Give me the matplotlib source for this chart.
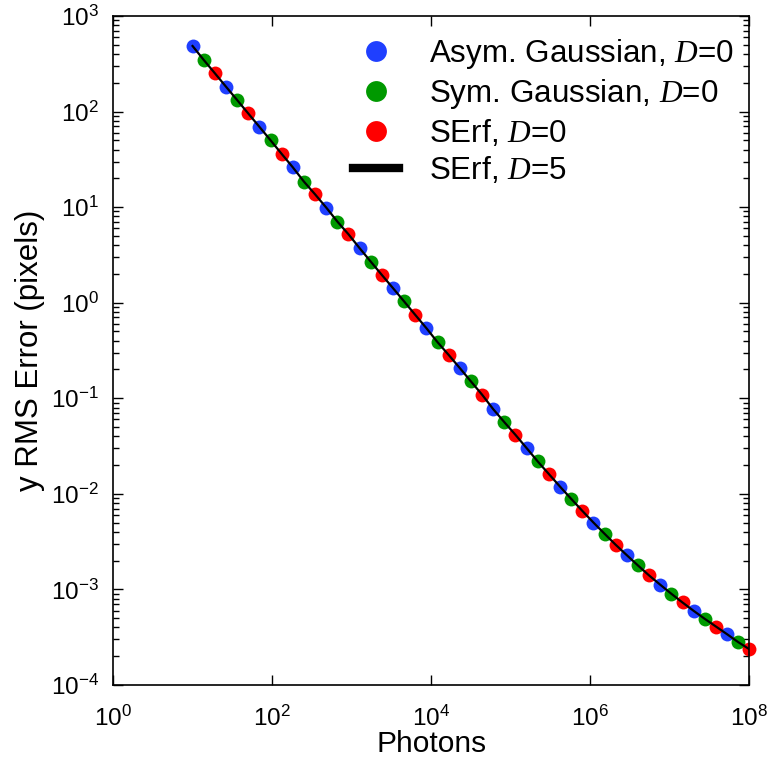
import matplotlib
matplotlib.use("Agg")
import matplotlib.pyplot as plt
from matplotlib.ticker import FixedLocator, LogLocator, NullFormatter

plt.rcParams['font.family'] = ['Liberation Sans', 'DejaVu Sans']
plt.rcParams['mathtext.fontset'] = 'custom'
plt.rcParams['mathtext.rm'] = 'Liberation Sans'
plt.rcParams['mathtext.it'] = 'Liberation Serif:italic'
plt.rcParams['mathtext.default'] = 'regular'

# photons (x) - 51 log-spaced points
photons = [10, 13.8, 19.1, 26.3, 36.3, 50.1, 69.2, 95.5, 132, 182,
           251, 347, 479, 661, 912, 1259, 1738, 2399, 3311, 4571,
           6310, 8710, 12023, 16596, 22909, 31623, 43652, 60256, 83176, 114815,
           158489, 218776, 301995, 416869, 575440, 794328, 1096478, 1513561, 2089296, 2884032,
           3981072, 5495409, 7585776, 10471285, 14454398, 19952623, 27542287, 38018940, 52480746, 72443596,
           100000000]

# y RMS error (pixels)
rms_error = [485, 347, 251, 182, 132, 95.5, 69.2, 50.1, 36.0, 26.1,
             18.5, 13.6, 9.89, 7.06, 5.20, 3.72, 2.69, 1.95, 1.42, 1.03,
             0.745, 0.541, 0.386, 0.284, 0.207, 0.150, 0.109, 0.0769, 0.0562, 0.0414,
             0.0301, 0.0218, 0.0161, 0.0119, 0.00887, 0.00664, 0.00501, 0.00382, 0.00293, 0.00228,
             0.00178, 0.00140, 0.00112, 0.000900, 0.000730, 0.000597, 0.000492, 0.000409, 0.000340, 0.000281,
             0.000237]

# the three point series alternate along the curve
asym_x, asym_y = photons[0::3], rms_error[0::3]
sym_x, sym_y = photons[1::3], rms_error[1::3]
serf_x, serf_y = photons[2::3], rms_error[2::3]
# SErf D=5 line lies on top of the same curve
serf5_x, serf5_y = photons, rms_error

x_ticks = [1, 1e2, 1e4, 1e6, 1e8]
y_ticks = [1e-4, 1e-3, 1e-2, 1e-1, 1, 1e1, 1e2, 1e3]

fig = plt.figure(figsize=(7.69, 7.60), dpi=100)
ax = fig.add_axes([0.147, 0.0987, 0.8274, 0.8803])

ms = 10
ax.plot(serf5_x, serf5_y, '-', color='black', lw=1.6, label='SErf, $\\it{D}$=5', zorder=3)
ax.plot(asym_x, asym_y, 'o', color='#1f3fff', ms=ms, mec='none', clip_on=False,
        label='Asym. Gaussian, $\\it{D}$=0', zorder=2)
ax.plot(sym_x, sym_y, 'o', color='#009900', ms=ms, mec='none', clip_on=False,
        label='Sym. Gaussian, $\\it{D}$=0', zorder=2)
ax.plot(serf_x, serf_y, 'o', color='#ff0000', ms=ms, mec='none', clip_on=False,
        label='SErf, $\\it{D}$=0', zorder=2)

ax.set_xscale('log')
ax.set_yscale('log')
ax.set_xlim(1, 1e8)
ax.set_ylim(1e-4, 1e3)

ax.xaxis.set_major_locator(FixedLocator(x_ticks))
ax.xaxis.set_minor_locator(FixedLocator([]))
ax.yaxis.set_major_locator(FixedLocator(y_ticks))
ax.yaxis.set_minor_locator(LogLocator(base=10, subs=range(2, 10)))
ax.yaxis.set_minor_formatter(NullFormatter())
ax.set_xticklabels(['$10^{%d}$' % p for p in [0, 2, 4, 6, 8]])
ax.set_yticklabels(['$10^{%d}$' % p for p in [-4, -3, -2, -1, 0, 1, 2, 3]])

ax.tick_params(which='both', direction='in', top=True, right=True, labelsize=17.5, width=1)
ax.tick_params(which='major', length=7)
ax.tick_params(axis='x', which='major', pad=15)
ax.tick_params(axis='y', which='major', pad=10)
ax.tick_params(which='minor', length=4)
for s in ax.spines.values():
    s.set_linewidth(1.2)

ax.set_xlabel('Photons', fontsize=21.5, labelpad=-1)
ax.set_ylabel('y RMS Error (pixels)', fontsize=22.5, labelpad=4)

handles, labels = ax.get_legend_handles_labels()
order = [1, 2, 3, 0]
leg = ax.legend([handles[i] for i in order], [labels[i] for i in order],
                loc='upper right', bbox_to_anchor=(1.0, 0.992), frameon=False, fontsize=22.6,
                markerscale=1.5, handlelength=1.45, handletextpad=0.95, labelspacing=0.2,
                borderaxespad=0.1)
leg.get_lines()[3].set_linewidth(6)

fig.savefig('out.png', dpi=100)
